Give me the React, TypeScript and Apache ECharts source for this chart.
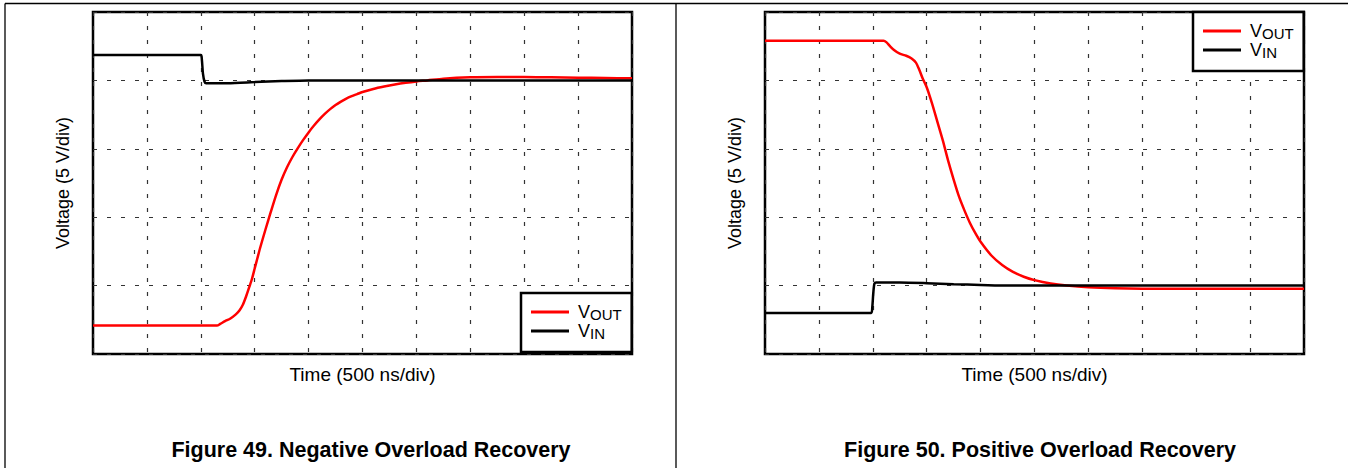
import React, { useEffect, useRef } from "react";
import * as echarts from "echarts";

// Time in divisions (500 ns/div), voltage in divisions (5 V/div)
const seriesNames = ["VOUT", "VIN"];
const xAxisName = "Time (500 ns/div)";
const yAxisName = "Voltage (5 V/div)";
const captions = ["Figure 49. Negative Overload Recovery", "Figure 50. Positive Overload Recovery"];

const negVout: number[][] = [
  [0, 0.415], [2.3, 0.415], [2.36, 0.44], [2.45, 0.48], [2.55, 0.52], [2.65, 0.58], [2.72, 0.64],
  [2.78, 0.72], [2.84, 0.84], [2.9, 0.98], [2.95, 1.1], [3.0, 1.25], [3.05, 1.4], [3.1, 1.55],
  [3.2, 1.82], [3.3, 2.08], [3.4, 2.33], [3.5, 2.55], [3.6, 2.73], [3.7, 2.88], [3.8, 3.01],
  [3.9, 3.13], [4.0, 3.24], [4.1, 3.34], [4.2, 3.43], [4.3, 3.51], [4.4, 3.58], [4.5, 3.64],
  [4.6, 3.69], [4.7, 3.735], [4.8, 3.77], [4.9, 3.8], [5.0, 3.83], [5.2, 3.875], [5.4, 3.91],
  [5.6, 3.94], [5.8, 3.965], [6.0, 3.985], [6.2, 4.0], [6.5, 4.025], [7.0, 4.045], [7.5, 4.05],
  [8.0, 4.05], [8.5, 4.045], [9.0, 4.04], [9.5, 4.035], [10, 4.03],
];
const negVin: number[][] = [
  [0, 4.37], [2.0, 4.37], [2.02, 4.3], [2.04, 4.1], [2.07, 3.98], [2.1, 3.96], [2.5, 3.96],
  [3.0, 3.975], [3.5, 3.99], [4.0, 4.0], [10, 4.0],
];
const posVout: number[][] = [
  [0, 4.58], [2.2, 4.58], [2.25, 4.56], [2.32, 4.5], [2.4, 4.44], [2.5, 4.39], [2.62, 4.36],
  [2.72, 4.32], [2.8, 4.26], [2.86, 4.16], [2.92, 4.04], [3.0, 3.9], [3.1, 3.66], [3.2, 3.39],
  [3.3, 3.12], [3.4, 2.82], [3.5, 2.55], [3.6, 2.3], [3.7, 2.1], [3.8, 1.92], [3.9, 1.77],
  [4.0, 1.64], [4.2, 1.44], [4.4, 1.3], [4.6, 1.2], [4.8, 1.13], [5.0, 1.08], [5.3, 1.03],
  [5.6, 1.0], [6.0, 0.975], [6.5, 0.96], [7.0, 0.955], [8.0, 0.955], [9.0, 0.955], [10, 0.955],
];
const posVin: number[][] = [
  [0, 0.6], [1.97, 0.6], [1.99, 0.68], [2.01, 0.9], [2.03, 1.03], [2.06, 1.045], [2.5, 1.045],
  [3.0, 1.035], [3.5, 1.02], [4.0, 1.01], [4.5, 1.0], [10, 1.0],
];

const FONT = "'Liberation Sans', Arial, Helvetica, sans-serif";
const RED = "#ff0000";
const BLACK = "#000000";

export default function App() {
  const ref = useRef<HTMLDivElement>(null);

  useEffect(() => {
    if (!ref.current) return;
    const chart = echarts.init(ref.current, null, { renderer: "svg" });

    const grids = [
      { left: 93, top: 12, width: 539, height: 342 },
      { left: 765, top: 12, width: 539, height: 342 },
    ];

    const splitStyle = { color: "#333", width: 1.2, type: [4, 10] as number[] };

    const xAxes = grids.map((_, i) => ({
      type: "value",
      gridIndex: i,
      min: 0,
      max: 10,
      interval: 1,
      axisLine: { show: false },
      axisTick: { show: false },
      axisLabel: { show: false },
      splitLine: { show: true, lineStyle: splitStyle },
      name: xAxisName,
      nameLocation: "middle",
      nameGap: 11,
      nameTextStyle: { fontSize: 19, color: "#000", fontFamily: FONT },
    }));
    const yAxes = grids.map((_, i) => ({
      type: "value",
      gridIndex: i,
      min: 0,
      max: 5,
      interval: 1,
      axisLine: { show: false },
      axisTick: { show: false },
      axisLabel: { show: false },
      splitLine: { show: true, lineStyle: splitStyle },
      name: yAxisName,
      nameLocation: "middle",
      nameRotate: 90,
      nameGap: 21,
      nameTextStyle: { fontSize: 18, color: "#000", fontFamily: FONT },
    }));

    const mk = (name: string, data: number[][], idx: number, color: string) => ({
      type: "line",
      name,
      xAxisIndex: idx,
      yAxisIndex: idx,
      data,
      symbol: "none",
      showSymbol: false,
      smooth: 0.25,
      lineStyle: { color, width: 2.5 },
      itemStyle: { color },
      z: 3,
    });

    const legendBase = {
      orient: "vertical",
      selectedMode: false,
      icon: "rect",
      itemWidth: 38,
      itemHeight: 3,
      itemGap: 0,
      padding: [10, 10, 11, 10],
      borderColor: "#000",
      borderWidth: 2.5,
      backgroundColor: "#fff",
      data: seriesNames,
      formatter: (n: string) => "{v|V}{s|" + n.slice(1) + "}",
      textStyle: {
        color: "#000",
        fontFamily: FONT,
        rich: {
          v: { fontSize: 18, lineHeight: 20, fontFamily: FONT, color: "#000", padding: [0, 0, 0, 4] },
          s: { fontSize: 15, lineHeight: 12, fontFamily: FONT, color: "#000", verticalAlign: "bottom" },
        },
      },
      z: 10,
    };

    const frameLine = (x1: number, y1: number, x2: number, y2: number) => ({
      type: "line",
      shape: { x1, y1, x2, y2 },
      style: { stroke: "#000", lineWidth: 1.3 },
      silent: true,
    });

    chart.setOption({
      animation: false,
      backgroundColor: "#fff",
      grid: grids.map((g) => ({ ...g, show: true, borderColor: "#000", borderWidth: 2.5, backgroundColor: "transparent" })),
      xAxis: xAxes,
      yAxis: yAxes,
      legend: [
        { ...legendBase, left: 521, top: 293 },
        { ...legendBase, left: 1193, top: 12 },
      ],
      series: [
        mk(seriesNames[0], negVout, 0, RED),
        mk(seriesNames[1], negVin, 0, BLACK),
        mk(seriesNames[0], posVout, 1, RED),
        mk(seriesNames[1], posVin, 1, BLACK),
      ],
      graphic: [
        frameLine(5, 3.5, 1348, 3.5),
        frameLine(5, 3.5, 5, 468),
        frameLine(676, 3.5, 676, 468),
        {
          type: "text",
          x: 371,
          y: 450,
          style: { text: captions[0], align: "center", verticalAlign: "middle", fontSize: 21.5, fontWeight: "bold", fontFamily: FONT, fill: "#000" },
        },
        {
          type: "text",
          x: 1040,
          y: 450,
          style: { text: captions[1], align: "center", verticalAlign: "middle", fontSize: 21.5, fontWeight: "bold", fontFamily: FONT, fill: "#000" },
        },
      ],
    });

    return () => chart.dispose();
  }, []);

  return (
    <div
      ref={ref}
      style={{ position: "absolute", left: 0, top: 0, width: 1348, height: 468, background: "#fff" }}
    />
  );
}
